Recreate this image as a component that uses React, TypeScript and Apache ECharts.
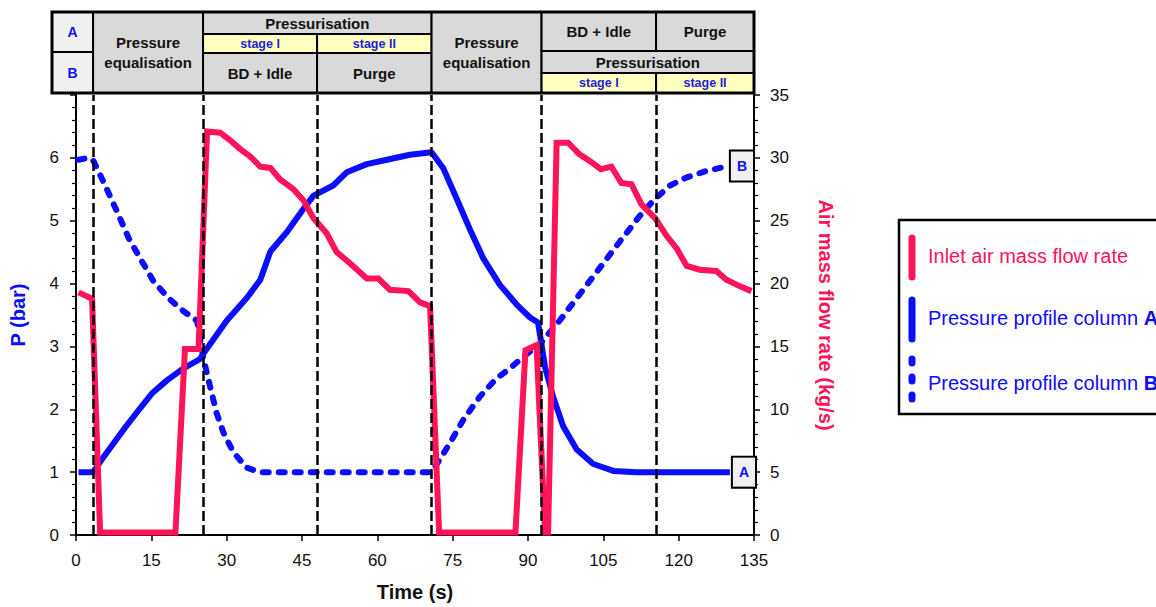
import React, { useEffect, useRef } from 'react';
import * as echarts from 'echarts';

// ---------- data ----------
const aTime = [0.5, 3.4, 5.2, 9.5, 12.8, 15.1, 18.1, 21.4, 24.7, 25.3, 30.0, 34.0, 36.7, 38.7, 42.0, 45.3, 47.3, 51.2, 53.9, 57.9, 61.9, 66.5, 70.8, 73.1, 75.8, 78.4, 81.1, 84.4, 87.7, 90.4, 92.0, 93.4, 95.0, 97.0, 99.7, 103.0, 107.0, 111.6, 130.2];
const aPressure = [1.0, 1.0, 1.21, 1.68, 2.02, 2.25, 2.46, 2.65, 2.8, 2.88, 3.41, 3.77, 4.06, 4.51, 4.82, 5.19, 5.4, 5.56, 5.77, 5.9, 5.97, 6.05, 6.09, 5.84, 5.35, 4.87, 4.4, 3.98, 3.67, 3.46, 3.38, 2.67, 2.2, 1.73, 1.36, 1.13, 1.02, 1.0, 1.0];

const bTime = [0.5, 2.5, 3.5, 5.8, 8.2, 10.5, 12.8, 15.4, 18.4, 21.4, 24.1, 25.4, 26.4, 28.0, 29.4, 31.4, 34.0, 36.7, 70.8, 72.5, 74.5, 77.1, 80.4, 83.7, 86.4, 89.0, 92.4, 96.3, 100.3, 104.3, 108.3, 112.3, 115.3, 118.3, 121.6, 125.5, 129.8];
const bPressure = [5.97, 6.0, 5.95, 5.56, 5.14, 4.72, 4.4, 4.04, 3.77, 3.56, 3.41, 2.8, 2.46, 1.94, 1.62, 1.31, 1.07, 1.0, 1.0, 1.21, 1.47, 1.83, 2.2, 2.49, 2.65, 2.83, 3.04, 3.41, 3.83, 4.25, 4.67, 5.08, 5.35, 5.56, 5.69, 5.79, 5.87];

const flowTime = [0.5, 3.2, 4.8, 19.8, 21.7, 24.4, 26.1, 28.7, 30.7, 32.7, 34.7, 36.7, 38.7, 40.6, 43.3, 45.3, 47.3, 49.9, 51.9, 54.6, 57.9, 60.2, 62.5, 66.2, 68.5, 70.5, 72.3, 87.5, 89.5, 91.7, 93.4, 94.0, 95.7, 98.0, 100.2, 102.5, 104.5, 106.6, 108.6, 110.6, 112.6, 115.3, 117.6, 119.6, 121.6, 124.2, 127.5, 129.5, 132.1, 134.5];
const flowRate = [19.3, 18.8, 0.2, 0.2, 14.8, 14.8, 32.1, 32.0, 31.4, 30.7, 30.1, 29.3, 29.2, 28.3, 27.5, 26.6, 25.2, 24.0, 22.5, 21.6, 20.4, 20.4, 19.5, 19.4, 18.5, 18.2, 0.2, 0.2, 14.7, 15.1, 0.2, 0.2, 31.2, 31.2, 30.3, 29.7, 29.1, 29.3, 28.0, 27.9, 26.3, 25.2, 23.8, 22.8, 21.4, 21.1, 21.0, 20.3, 19.8, 19.4];

const phaseBounds = [3.4, 25.3, 48, 70.8, 92.7, 115.5];

const legendLabels = ['Inlet air mass flow rate', 'Pressure profile column ', 'Pressure profile column '];

// ---------- style ----------
const FONT = '"Liberation Sans", Arial, sans-serif';
const RED = '#ff1459';
const BLUE = '#0d0dff';
const GRAY = '#d9d9d9';
const LIGHT = '#f0f0f0';
const YELLOW = '#ffffc0';
const GRID_LEFT = 76;
const GRID_TOP = 95;
const GRID_W = 678;
const GRID_H = 445;
const X_MAX = 135;

const zip = (xs: number[], ys: number[]) => xs.map((x, i) => [x, ys[i]]);
const px = (t: number) => GRID_LEFT + (t / X_MAX) * GRID_W;

function cell(x0: number, x1: number, y0: number, y1: number, fill: string, text: string, font: string, color: string, lineHeight = 20) {
  return [
    {
      type: 'rect',
      shape: { x: x0, y: y0, width: x1 - x0, height: y1 - y0 },
      style: { fill, stroke: '#000', lineWidth: 2 },
      z: 10,
    },
    {
      type: 'text',
      x: (x0 + x1) / 2,
      y: (y0 + y1) / 2,
      style: { text, fill: color, font, align: 'center', verticalAlign: 'middle', lineHeight },
      z: 11,
    },
  ];
}

export default function App() {
  const ref = useRef<HTMLDivElement>(null);

  useEffect(() => {
    const chart = echarts.init(ref.current!, null, { renderer: 'svg' });

    const bHead = 'bold 15px ' + FONT;
    const bStage = 'bold 12.5px ' + FONT;
    const bAB = 'bold 14px ' + FONT;
    const [b0, b1, b2, b3, b4, b5] = phaseBounds.map(px);
    const xL = 52;
    const xR = px(X_MAX);
    const yT = 12, yA = 52, yB = 93;

    const header = [
      ...cell(xL, b0, yT, yA, LIGHT, 'A', bAB, BLUE),
      ...cell(xL, b0, yA, yB, LIGHT, 'B', bAB, BLUE),
      ...cell(b0, b1, yT, yB, GRAY, 'Pressure\nequalisation', bHead, '#111'),
      ...cell(b1, b3, yT, 34, GRAY, 'Pressurisation', bHead, '#111'),
      ...cell(b1, b2, 34, 53, YELLOW, 'stage I', bStage, '#1f1fd6'),
      ...cell(b2, b3, 34, 53, YELLOW, 'stage II', bStage, '#1f1fd6'),
      ...cell(b1, b2, 53, yB, GRAY, 'BD + Idle', bHead, '#111'),
      ...cell(b2, b3, 53, yB, GRAY, 'Purge', bHead, '#111'),
      ...cell(b3, b4, yT, yB, GRAY, 'Pressure\nequalisation', bHead, '#111'),
      ...cell(b4, b5, yT, 51, GRAY, 'BD + Idle', bHead, '#111'),
      ...cell(b5, xR, yT, 51, GRAY, 'Purge', bHead, '#111'),
      ...cell(b4, xR, 51, 73, GRAY, 'Pressurisation', bHead, '#111'),
      ...cell(b4, b5, 73, yB, YELLOW, 'stage I', bStage, '#1f1fd6'),
      ...cell(b5, xR, 73, yB, YELLOW, 'stage II', bStage, '#1f1fd6'),
      {
        type: 'rect',
        shape: { x: xL, y: yT, width: xR - xL, height: yB - yT },
        style: { fill: 'none', stroke: '#000', lineWidth: 3 },
        z: 12,
      },
    ];

    const legendFont = '20px ' + FONT;
    const legend = [
      {
        type: 'rect',
        shape: { x: 899, y: 220, width: 290, height: 194 },
        style: { fill: '#fff', stroke: '#000', lineWidth: 2.5 },
        z: 10,
      },
      {
        type: 'line',
        shape: { x1: 912, y1: 238, x2: 912, y2: 277 },
        style: { stroke: RED, lineWidth: 7, lineCap: 'round' },
        z: 11,
      },
      {
        type: 'line',
        shape: { x1: 912, y1: 300, x2: 912, y2: 339 },
        style: { stroke: BLUE, lineWidth: 7, lineCap: 'round' },
        z: 11,
      },
      {
        type: 'line',
        shape: { x1: 912, y1: 359, x2: 912, y2: 399 },
        style: { stroke: BLUE, lineWidth: 7, lineCap: 'round', lineDash: [4, 14] },
        z: 11,
      },
      {
        type: 'text',
        x: 928,
        y: 256,
        style: { text: legendLabels[0], fill: RED, font: legendFont, verticalAlign: 'middle' },
        z: 11,
      },
      {
        type: 'text',
        x: 928,
        y: 318,
        style: {
          text: legendLabels[1] + '{b|A}',
          fill: BLUE,
          font: legendFont,
          verticalAlign: 'middle',
          rich: { b: { fontWeight: 'bold', fontSize: 20, fontFamily: FONT, fill: BLUE } },
        },
        z: 11,
      },
      {
        type: 'text',
        x: 928,
        y: 383,
        style: {
          text: legendLabels[2] + '{b|B}',
          fill: BLUE,
          font: legendFont,
          verticalAlign: 'middle',
          rich: { b: { fontWeight: 'bold', fontSize: 20, fontFamily: FONT, fill: BLUE } },
        },
        z: 11,
      },
    ];

    const endLabel = (txt: string) => ({
      show: true,
      formatter: txt,
      distance: 3,
      backgroundColor: LIGHT,
      borderColor: '#000',
      borderWidth: 2,
      padding: [8, 6, 7, 6],
      color: BLUE,
      fontWeight: 'bold',
      fontSize: 14,
      fontFamily: FONT,
    });

    const axisCommon = {
      axisLine: { show: true, lineStyle: { color: '#000', width: 2 } },
      axisTick: { show: true, length: 6, lineStyle: { color: '#000', width: 1.5 } },
      splitLine: { show: false },
      axisLabel: { color: '#111', fontSize: 17, fontFamily: FONT },
    };

    chart.setOption({
      animation: false,
      backgroundColor: '#fff',
      grid: { left: GRID_LEFT, top: GRID_TOP, width: GRID_W, height: GRID_H },
      xAxis: {
        type: 'value',
        min: 0,
        max: X_MAX,
        interval: 15,
        name: 'Time (s)',
        nameLocation: 'middle',
        nameGap: 47,
        nameTextStyle: { fontSize: 20, fontWeight: 'bold', color: '#111', fontFamily: FONT },
        ...axisCommon,
        axisLabel: { ...axisCommon.axisLabel, margin: 17 },
      },
      yAxis: [
        {
          type: 'value',
          min: 0,
          max: 7,
          interval: 1,
          name: 'P (bar)',
          nameLocation: 'middle',
          nameGap: 48,
          nameRotate: 90,
          nameTextStyle: { fontSize: 20, fontWeight: 'bold', color: BLUE, fontFamily: FONT },
          ...axisCommon,
          minorTick: { show: true, splitNumber: 5, length: 4, lineStyle: { color: '#000', width: 1.2 } },
          axisLabel: {
            ...axisCommon.axisLabel,
            margin: 17,
            formatter: (v: number) => (v >= 7 ? '' : String(v)),
          },
        },
        {
          type: 'value',
          min: 0,
          max: 35,
          interval: 5,
          position: 'right',
          name: 'Air mass flow rate (kg/s)',
          nameLocation: 'middle',
          nameGap: 62,
          nameRotate: -90,
          nameTextStyle: { fontSize: 20, fontWeight: 'bold', color: RED, fontFamily: FONT },
          ...axisCommon,
          minorTick: { show: true, splitNumber: 5, length: 4, lineStyle: { color: '#000', width: 1.2 } },
          axisLabel: { ...axisCommon.axisLabel, margin: 16 },
        },
      ],
      graphic: [...header, ...legend],
      series: [
        {
          name: 'Pressure profile column A',
          type: 'line',
          yAxisIndex: 0,
          data: zip(aTime, aPressure),
          showSymbol: false,
          symbol: 'none',
          lineStyle: { color: BLUE, width: 6 },
          endLabel: endLabel('A'),
          z: 3,
        },
        {
          name: 'Pressure profile column B',
          type: 'line',
          yAxisIndex: 0,
          data: zip(bTime, bPressure),
          showSymbol: false,
          symbol: 'none',
          lineStyle: { color: BLUE, width: 6, type: [6, 10], cap: 'round' },
          endLabel: endLabel('B'),
          z: 3,
        },
        {
          name: 'Inlet air mass flow rate',
          type: 'line',
          yAxisIndex: 1,
          data: zip(flowTime, flowRate),
          showSymbol: false,
          symbol: 'none',
          lineStyle: { color: RED, width: 6, join: 'miter' },
          z: 4,
          markLine: {
            silent: true,
            symbol: 'none',
            label: { show: false },
            lineStyle: { color: '#000', width: 2.5, type: [10, 4] },
            data: phaseBounds.map((t) => ({ xAxis: t })),
          },
        },
      ],
    });

    return () => chart.dispose();
  }, []);

  return (
    <div
      ref={ref}
      style={{ position: 'fixed', left: 0, top: 0, width: 1156, height: 607, background: '#fff' }}
    />
  );
}
